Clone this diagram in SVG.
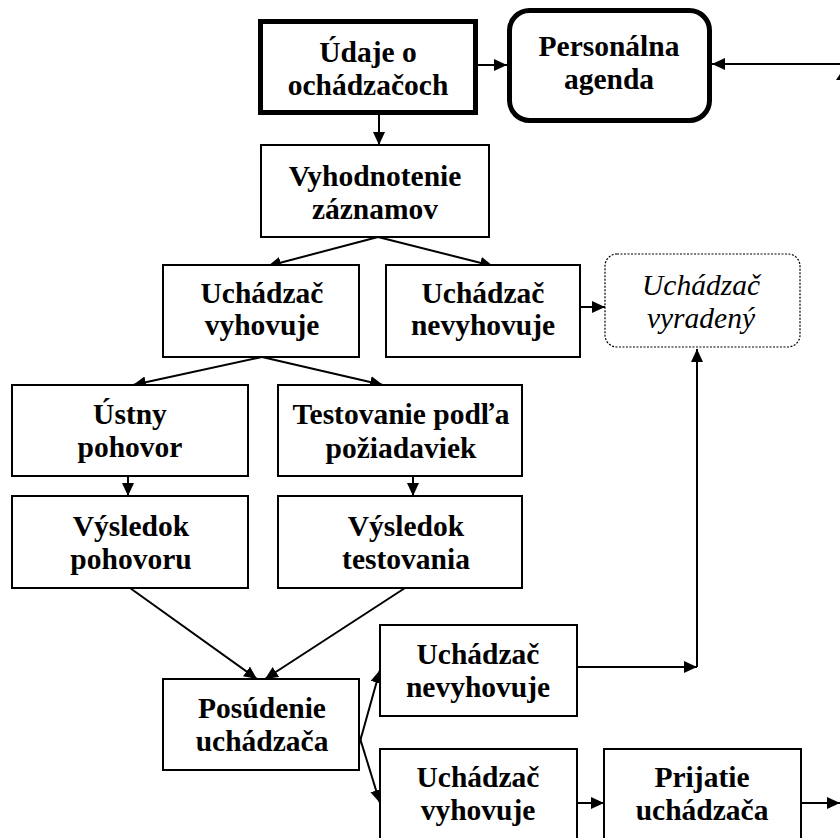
<svg xmlns="http://www.w3.org/2000/svg" width="840" height="838" viewBox="0 0 840 838">
<defs>
<marker id="ah" markerUnits="userSpaceOnUse" markerWidth="15" markerHeight="13" refX="13" refY="6" orient="auto">
<path d="M0,0 L13,6 L0,12 Z" fill="#000"/>
</marker>
<style>
.box{fill:#fff;stroke:#000;stroke-width:2}
.thick{fill:#fff;stroke:#000;stroke-width:5}
.dot{fill:#fff;stroke:#000;stroke-width:1.2;stroke-dasharray:2 1.5}
.c{fill:none;stroke:#000;stroke-width:2}
.a{marker-end:url(#ah)}
text{font-family:"Liberation Serif","Times New Roman",serif;font-size:29.5px;font-weight:bold;text-anchor:middle;fill:#000}
text.it{font-weight:normal;font-style:italic}
</style>
</defs>
<rect width="840" height="838" fill="#fff"/>
<g id="connectors">
<line class="c a" x1="478" y1="65" x2="507" y2="65"/>
<line class="c a" x1="840" y1="64" x2="712" y2="64"/>
<line class="c a" x1="379" y1="115" x2="379" y2="145"/>
<line class="c a" x1="378" y1="237" x2="268" y2="266"/>
<line class="c a" x1="378" y1="237" x2="493" y2="266"/>
<line class="c a" x1="580" y1="307" x2="605" y2="307"/>
<line class="c a" x1="262" y1="357" x2="133" y2="385"/>
<line class="c a" x1="262" y1="357" x2="383" y2="385"/>
<line class="c a" x1="128" y1="476" x2="128" y2="496"/>
<line class="c a" x1="413" y1="476" x2="413" y2="496"/>
<line class="c a" x1="130" y1="588" x2="257" y2="679"/>
<line class="c a" x1="405" y1="588" x2="265" y2="679"/>
<line class="c a" x1="359" y1="745" x2="380" y2="670"/>
<line class="c a" x1="359" y1="735" x2="380" y2="803"/>
<line class="c a" x1="577" y1="667" x2="697" y2="667"/>
<line class="c a" x1="697" y1="667" x2="697" y2="349"/>
<line class="c a" x1="577" y1="803" x2="604" y2="803"/>
<line class="c a" x1="801" y1="803" x2="840" y2="803"/>
<path d="M836,80 L840,74 L840,80 Z" fill="#000"/>
</g>
<g id="n-udaje">
<rect class="thick" x="260.5" y="21.5" width="215" height="91"/>
<text x="368" y="62">Údaje o</text>
<text x="368" y="95">ochádzačoch</text>
</g>
<g id="n-personalna">
<rect class="thick" x="509.5" y="10.5" width="200" height="110" rx="20"/>
<text x="609" y="56">Personálna</text>
<text x="609" y="89">agenda</text>
</g>
<g id="n-vyhodnotenie">
<rect class="box" x="261" y="145" width="228" height="92"/>
<text x="375" y="186">Vyhodnotenie</text>
<text x="375" y="219">záznamov</text>
</g>
<g id="n-vyhovuje1">
<rect class="box" x="163" y="265" width="196" height="92"/>
<text x="262" y="303">Uchádzač</text>
<text x="262" y="335">vyhovuje</text>
</g>
<g id="n-nevyhovuje1">
<rect class="box" x="386" y="265" width="194" height="92"/>
<text x="483" y="303">Uchádzač</text>
<text x="483" y="335">nevyhovuje</text>
</g>
<g id="n-vyradeny">
<rect class="dot" x="605" y="254" width="195" height="93" rx="12"/>
<text class="it" x="701" y="295">Uchádzač</text>
<text class="it" x="701" y="328">vyradený</text>
</g>
<g id="n-ustny">
<rect class="box" x="12" y="385" width="236" height="91"/>
<text x="130" y="424">Ústny</text>
<text x="130" y="457">pohovor</text>
</g>
<g id="n-testovanie">
<rect class="box" x="278" y="385" width="244" height="91"/>
<text x="401" y="424">Testovanie podľa</text>
<text x="401" y="458">požiadaviek</text>
</g>
<g id="n-vysledok-pohovoru">
<rect class="box" x="12" y="496" width="236" height="92"/>
<text x="131" y="536">Výsledok</text>
<text x="131" y="569">pohovoru</text>
</g>
<g id="n-vysledok-testovania">
<rect class="box" x="278" y="496" width="244" height="92"/>
<text x="406" y="536">Výsledok</text>
<text x="406" y="569">testovania</text>
</g>
<g id="n-posudenie">
<rect class="box" x="163" y="679" width="196" height="91"/>
<text x="262" y="718">Posúdenie</text>
<text x="262" y="751">uchádzača</text>
</g>
<g id="n-nevyhovuje2">
<rect class="box" x="380" y="625" width="197" height="91"/>
<text x="478" y="664">Uchádzač</text>
<text x="478" y="697">nevyhovuje</text>
</g>
<g id="n-vyhovuje2">
<rect class="box" x="380" y="749" width="197" height="100"/>
<text x="478" y="787">Uchádzač</text>
<text x="478" y="820">vyhovuje</text>
</g>
<g id="n-prijatie">
<rect class="box" x="604" y="749" width="197" height="100"/>
<text x="702" y="787">Prijatie</text>
<text x="702" y="820">uchádzača</text>
</g>
</svg>
